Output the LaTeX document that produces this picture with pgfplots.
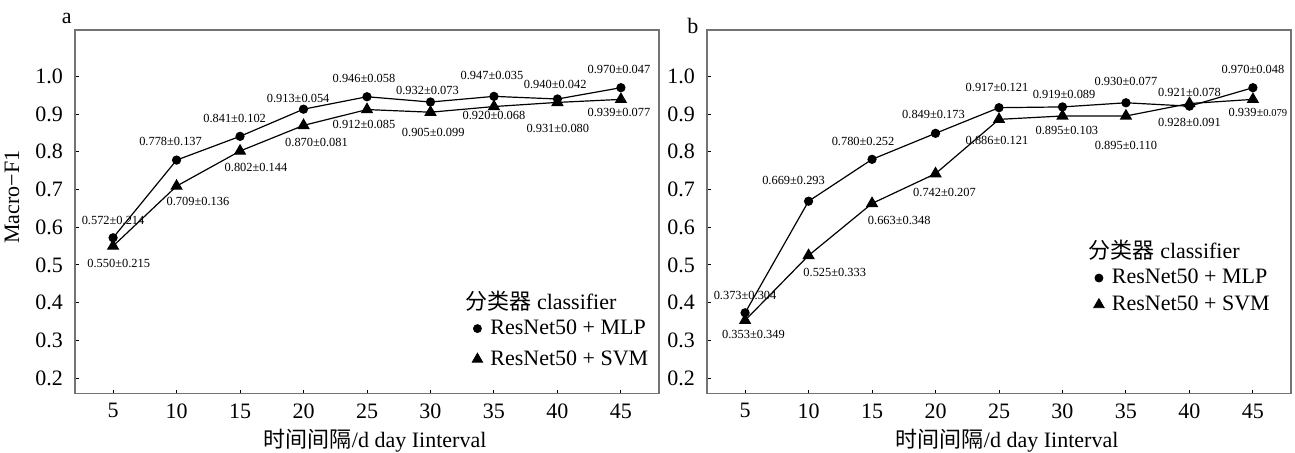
\documentclass[border=0pt]{standalone}
\usepackage{pgfplots}
\pgfplotsset{compat=1.18}
\usepackage{fontspec}
\setmainfont{Liberation Serif}
\newfontfamily\cjk{Noto Sans CJK SC}
\newcommand{\lab}[5]{\node[font=\fontsize{6.2}{7}\selectfont, inner sep=0pt] at ([xshift=#3pt,yshift=#4pt]axis cs:#1,#2) {#5};}
\pgfplotsset{
  myaxis/.style={
    scale only axis, width=292pt, height=181.75pt,
    xmin=2, xmax=48, ymin=0.159, ymax=1.123,
    xtick={5,10,15,20,25,30,35,40,45},
    ytick={0.2,0.3,0.4,0.5,0.6,0.7,0.8,0.9,1.0},
    tick align=inside, xtick pos=bottom, ytick pos=left,
    major tick length=2pt,
    axis line style={draw=black!55, line width=0.6pt},
    tick style={black, line width=0.5pt},
    ticklabel style={font=\fontsize{11}{13}\selectfont},
    /pgf/number format/assume math mode=true,
    yticklabel style={/pgf/number format/.cd, fixed, fixed zerofill, precision=1, /tikz/.cd, xshift=-2.5pt},
    xticklabel style={yshift=-1.5pt},
    xlabel={{\cjk 时间间隔}/d day Iinterval},
    xlabel style={font=\fontsize{11}{13}\selectfont, at={(axis description cs:0.514,0)}, anchor=center, yshift=-23.75pt},
    clip=false,
    legend image code/.code={\draw[#1] plot coordinates {(0.1cm,0cm)}; \path (0cm,0cm) (0.25cm,0cm);},
    legend cell align=left,
  },
  mlp/.style={black, line width=0.6pt, mark=*, mark size=2pt, mark options={solid, fill=black}},
  svm/.style={black, line width=0.6pt, mark=triangle*, mark size=3pt, mark options={solid, fill=black}},
}
\begin{document}
\begin{tikzpicture}
\path[use as bounding box] (-37.5pt,-29.25pt) rectangle (610pt,196.75pt);
% ---------------- panel a
\begin{axis}[myaxis,
  ylabel={Macro−F1},
  ylabel style={font=\fontsize{11}{13}\selectfont, at={(axis description cs:-0.108,0.54)}, anchor=center},
  legend style={draw=none, fill=none, at={(rel axis cs:0.678,0.215)}, anchor=north west,
    font=\fontsize{11}{13}\selectfont, row sep=2.5pt, inner sep=0pt},
]
\addplot[mlp, forget plot] coordinates {(5,0.572) (10,0.778) (15,0.841) (20,0.913) (25,0.946) (30,0.932) (35,0.947) (40,0.940) (45,0.970)};
\addplot[svm, forget plot] coordinates {(5,0.550) (10,0.709) (15,0.802) (20,0.870) (25,0.912) (30,0.905) (35,0.920) (40,0.931) (45,0.939)};
\addlegendimage{only marks, black, mark=*, mark size=2pt}
\addlegendentry{ResNet50 + MLP}
\addlegendimage{only marks, black, mark=triangle*, mark size=3pt}
\addlegendentry{ResNet50 + SVM}
\node[anchor=west, inner sep=0pt, font=\fontsize{11}{13}\selectfont] at (rel axis cs:0.668,0.254) {{\cjk 分类器} classifier};
\node[font=\fontsize{11}{13}\selectfont, inner sep=0pt] at (rel axis cs:-0.014,1.033) {a};
\lab{5}{0.572}{0}{8.9}{0.572±0.214}
\lab{5}{0.550}{2.8}{-8.5}{0.550±0.215}
\lab{10}{0.778}{-3}{9.2}{0.778±0.137}
\lab{10}{0.709}{10.7}{-7.9}{0.709±0.136}
\lab{15}{0.841}{-2.7}{9}{0.841±0.102}
\lab{15}{0.802}{8}{-8.3}{0.802±0.144}
\lab{20}{0.913}{-2.7}{5.3}{0.913±0.054}
\lab{20}{0.870}{6.5}{-8.4}{0.870±0.081}
\lab{25}{0.946}{-1.5}{9}{0.946±0.058}
\lab{25}{0.912}{-1.5}{-7.3}{0.912±0.085}
\lab{30}{0.932}{-1.5}{5.8}{0.932±0.073}
\lab{30}{0.905}{1.4}{-10.2}{0.905±0.099}
\lab{35}{0.947}{-1}{10.6}{0.947±0.035}
\lab{35}{0.920}{0}{-4.7}{0.920±0.068}
\lab{40}{0.940}{-1.1}{7.4}{0.940±0.042}
\lab{40}{0.931}{0.2}{-13.2}{0.931±0.080}
\lab{45}{0.970}{-1}{8.9}{0.970±0.047}
\lab{45}{0.939}{-1}{-6.6}{0.939±0.077}
\end{axis}
% ---------------- panel b
\begin{axis}[myaxis, at={(316pt,0pt)}, anchor=south west,
  legend style={draw=none, fill=none, at={(rel axis cs:0.660,0.354)}, anchor=north west,
    font=\fontsize{11}{13}\selectfont, row sep=0.5pt, inner sep=0pt},
]
\addplot[mlp, forget plot] coordinates {(5,0.373) (10,0.669) (15,0.780) (20,0.849) (25,0.917) (30,0.919) (35,0.930) (40,0.921) (45,0.970)};
\addplot[svm, forget plot] coordinates {(5,0.353) (10,0.525) (15,0.663) (20,0.742) (25,0.886) (30,0.895) (35,0.895) (40,0.928) (45,0.939)};
\addlegendimage{only marks, black, mark=*, mark size=2pt}
\addlegendentry{ResNet50 + MLP}
\addlegendimage{only marks, black, mark=triangle*, mark size=3pt}
\addlegendentry{ResNet50 + SVM}
\node[anchor=west, inner sep=0pt, font=\fontsize{11}{13}\selectfont] at (rel axis cs:0.653,0.395) {{\cjk 分类器} classifier};
\node[font=\fontsize{11}{13}\selectfont, inner sep=0pt] at (rel axis cs:-0.024,1.011) {b};
\lab{5}{0.373}{0}{8.9}{0.373±0.304}
\lab{5}{0.353}{4.2}{-7}{0.353±0.349}
\lab{10}{0.669}{-7.5}{10.5}{0.669±0.293}
\lab{10}{0.525}{13.1}{-8.4}{0.525±0.333}
\lab{15}{0.780}{-4.5}{8.9}{0.780±0.252}
\lab{15}{0.663}{13.6}{-8.4}{0.663±0.348}
\lab{20}{0.849}{-1}{9.2}{0.849±0.173}
\lab{20}{0.742}{4.5}{-9.4}{0.742±0.207}
\lab{25}{0.917}{-1}{10.2}{0.917±0.121}
\lab{25}{0.886}{-1}{-10.6}{0.886±0.121}
\lab{30}{0.919}{0.8}{6}{0.919±0.089}
\lab{30}{0.895}{2.2}{-7}{0.895±0.103}
\lab{35}{0.930}{0}{10.6}{0.930±0.077}
\lab{35}{0.895}{0}{-14.8}{0.895±0.110}
\lab{40}{0.921}{0}{6.8}{0.921±0.078}
\lab{40}{0.928}{0}{-9.6}{0.928±0.091}
\lab{45}{0.970}{0}{8.9}{0.970±0.048}
\lab{45}{0.939}{2.5}{-6.6}{0.939±{\fontsize{5.3}{6}\selectfont 0.079}}
\end{axis}
\end{tikzpicture}
\end{document}
